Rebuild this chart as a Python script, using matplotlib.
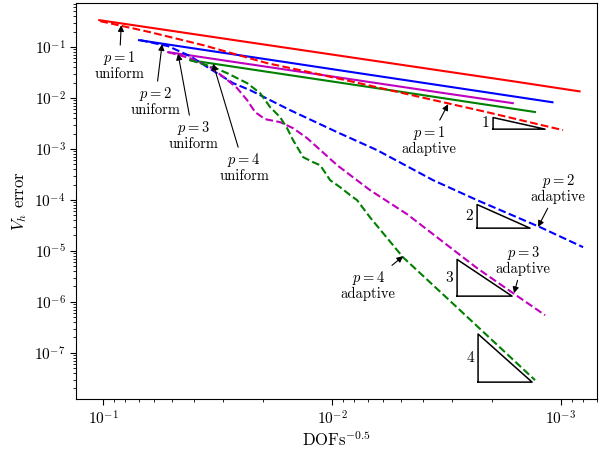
import matplotlib
matplotlib.use("Agg")
import matplotlib.pyplot as plt

plt.rcParams['mathtext.fontset'] = 'cm'
plt.rcParams['font.family'] = 'serif'
plt.rcParams['font.serif'] = ['cmr10']
plt.rcParams['axes.formatter.use_mathtext'] = True
plt.rcParams['axes.unicode_minus'] = False

# ---- data ----
p1_uni_x = [0.104, 0.052, 0.026, 0.013, 0.0065, 0.00325, 0.001625, 0.00083]
p1_uni_y = [0.334, 0.211, 0.133, 0.0841, 0.0531, 0.0335, 0.0212, 0.0134]
p2_uni_x = [0.0697, 0.0349, 0.0174, 0.00871, 0.00436, 0.00218, 0.00109]
p2_uni_y = [0.1353, 0.0848, 0.0532, 0.0333, 0.0209, 0.0131, 0.0082]
p3_uni_x = [0.052, 0.026, 0.013, 0.0065, 0.00325, 0.001625]
p3_uni_y = [0.0787, 0.0496, 0.0313, 0.0197, 0.0124, 0.00787]
p4_uni_x = [0.0417, 0.02085, 0.0104, 0.0052, 0.0026, 0.0013]
p4_uni_y = [0.0548, 0.0343, 0.0215, 0.0135, 0.00843, 0.00528]

p1_ada_x = [0.1030, 0.0623, 0.0366, 0.01922, 0.01379, 0.00834, 0.003146, 0.002103, 0.00098]
p1_ada_y = [0.319, 0.194, 0.108, 0.0479, 0.0349, 0.02126, 0.00787, 0.00524, 0.002326]
p2_ada_x = [0.0689, 0.0520, 0.0417, 0.0334, 0.02705, 0.02281, 0.01865, 0.01526,
            0.00951, 0.00636, 0.003622, 0.002326, 0.001235, 0.000801]
p2_ada_y = [0.1353, 0.1032, 0.0657, 0.0349, 0.01942, 0.01416, 0.00901, 0.00574,
            0.002126, 0.000943, 0.000243, 9.87e-5, 2.915e-5, 1.181e-5]
p3_ada_x = [0.0520, 0.0417, 0.0341, 0.02932, 0.02600, 0.02350, 0.02169, 0.01962,
            0.01687, 0.01481, 0.01286, 0.00951, 0.00683, 0.004706, 0.002326,
            0.001621, 0.001174]
p3_ada_y = [0.0787, 0.0600, 0.0400, 0.02434, 0.01550, 0.00901, 0.00524, 0.003824,
            0.003339, 0.002546, 0.001621, 0.000479, 0.000155, 5.24e-5, 4.58e-6,
            1.482e-6, 5.48e-7]
p4_ada_x = [0.0417, 0.0331, 0.02874, 0.02350, 0.02063, 0.01865, 0.01687, 0.01573,
            0.01481, 0.01338, 0.01211, 0.01128, 0.01020, 0.00923, 0.00834, 0.00778,
            0.00683, 0.004898, 0.003146, 0.001299]
p4_ada_y = [0.0548, 0.0400, 0.0305, 0.01942, 0.01237, 0.00657, 0.004183, 0.002546,
            0.001481, 0.000688, 0.000548, 0.000479, 0.000243, 0.0001774, 0.0001237,
            9.87e-5, 4.54e-5, 7.46e-6, 1.181e-6, 2.915e-8]

colors = ['r', 'b', 'm', 'g']

# slope triangles: (x_left, x_right, y_bottom, slope)
tri_slopes = [1, 2, 3, 4]
tri_xleft = [0.001981, 0.002326, 0.002845, 0.002304]
tri_xright = [0.001174, 0.001366, 0.001637, 0.001338]
tri_ybottom = [0.002434, 2.787e-5, 1.294e-6, 2.665e-8]

# annotations: text, text position, arrow head
ann_text = ['$p=$1\nuniform', '$p=$2\nuniform', '$p=$3\nuniform', '$p=$4\nuniform',
            '$p=$1\nadaptive', '$p=$2\nadaptive', '$p=$3\nadaptive', '$p=$4\nadaptive']
ann_txt_x = [0.0851, 0.0593, 0.0405, 0.02423, 0.00377, 0.00103, 0.001465, 0.00696]
ann_txt_y = [0.0438, 0.00862, 0.001856, 0.000438, 0.001481, 0.0001696, 6.57e-6, 2.126e-6]
ann_head_x = [0.0834, 0.0553, 0.0471, 0.0331, 0.003114, 0.00126, 0.001604, 0.004898]
ann_head_y = [0.266, 0.113, 0.0734, 0.0468, 0.00752, 2.95e-5, 1.48e-6, 7.87e-6]

fig = plt.figure(figsize=(6, 4.5), dpi=100)
ax = fig.add_axes([0.127, 0.113, 0.868, 0.880])

uni = [(p1_uni_x, p1_uni_y), (p2_uni_x, p2_uni_y), (p3_uni_x, p3_uni_y), (p4_uni_x, p4_uni_y)]
ada = [(p1_ada_x, p1_ada_y), (p2_ada_x, p2_ada_y), (p3_ada_x, p3_ada_y), (p4_ada_x, p4_ada_y)]
for (x, y), c in zip(uni, colors):
    ax.loglog(x, y, '-', color=c, lw=1.5)
for (x, y), c in zip(ada, colors):
    ax.loglog(x, y, '--', color=c, lw=1.5)

for s, xl, xr, yb in zip(tri_slopes, tri_xleft, tri_xright, tri_ybottom):
    yt = yb * (xl / xr) ** s
    ax.plot([xl, xl, xr, xl], [yb, yt, yb, yb], 'k-', lw=1.1)
    ax.text(xl * 1.04, (yb * yt) ** 0.5, str(s), ha='right', va='center', fontsize=11)

for t, tx, ty, hx, hy in zip(ann_text, ann_txt_x, ann_txt_y, ann_head_x, ann_head_y):
    ax.annotate(t, xy=(hx, hy), xytext=(tx, ty), ha='center', va='center',
                fontsize=10.5, linespacing=1.0,
                arrowprops=dict(arrowstyle='-|>', color='k', lw=0.8,
                                mutation_scale=9, shrinkA=1, shrinkB=0))

ax.set_xlim(0.1312, 6.965e-4)
ax.set_ylim(1.236e-8, 0.7197)
ax.set_xlabel('DOFs$^{-0.5}$', fontsize=12, labelpad=1)
ax.set_ylabel('$V_h$ error', fontsize=12)
ax.tick_params(axis='both', which='major', direction='out', length=4, labelsize=11,
               top=False, right=False)
ax.tick_params(axis='both', which='minor', direction='out', length=2,
               top=False, right=False)

fig.savefig('out.png', dpi=100)
